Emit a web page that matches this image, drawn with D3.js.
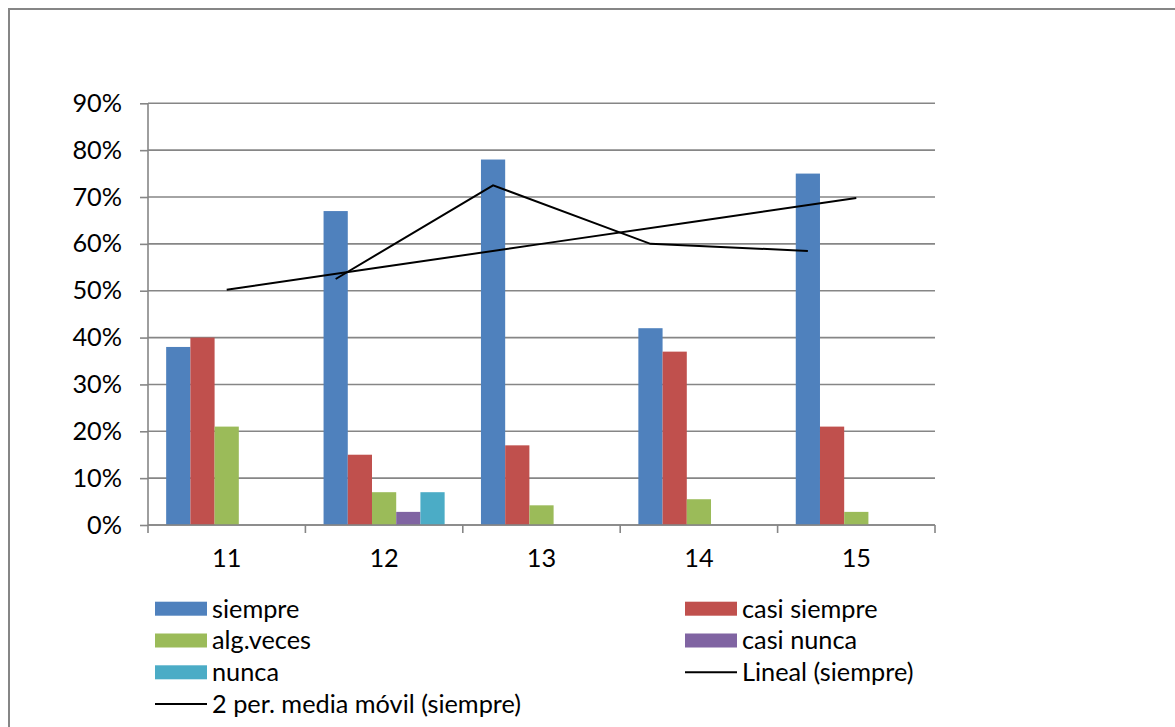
<!DOCTYPE html>
<html>
<head>
<meta charset="utf-8">
<script src="https://cdn.jsdelivr.net/npm/d3@7"></script>
<style>
  html, body { margin: 0; padding: 0; background: #fff; }
  svg { display: block; }
  text { font-family: Lato, "Open Sans", sans-serif; fill: #000; }
</style>
</head>
<body>
<svg id="chart" width="1175" height="727"></svg>
<script>
// Categories (question numbers) and answer shares per category
const categories = ["11", "12", "13", "14", "15"];
const seriesNames = ["siempre", "casi siempre", "alg.veces", "casi nunca", "nunca"];
const siempre     = [0.38, 0.67, 0.78, 0.42, 0.75];
const casiSiempre = [0.40, 0.15, 0.17, 0.37, 0.21];
const algVeces    = [0.21, 0.07, 0.042, 0.055, 0.028];
const casiNunca   = [0, 0.028, 0, 0, 0];
const nunca       = [0, 0.07, 0, 0, 0];
const yTicks = [0, 0.1, 0.2, 0.3, 0.4, 0.5, 0.6, 0.7, 0.8, 0.9];
const trendNames = ["Lineal (siempre)", "2 per. media móvil (siempre)"];

const seriesValues = [siempre, casiSiempre, algVeces, casiNunca, nunca];
const colors = ["#4F81BD", "#C0504D", "#9BBB59", "#8064A2", "#4BACC6"];
const gridColor = "#868686";
const fontSize = 25.3;

const svg = d3.select("#chart");

// outer chart frame
svg.append("rect")
  .attr("x", 9).attr("y", 9)
  .attr("width", 1200).attr("height", 760)
  .attr("fill", "#fff")
  .attr("stroke", gridColor).attr("stroke-width", 2);

const plot = { left: 148, right: 935, top: 103.3, bottom: 525 };

const x = d3.scaleBand().domain(categories).range([plot.left, plot.right]).paddingInner(0).paddingOuter(0);
const xs = d3.scaleBand().domain(seriesNames).range([0, x.bandwidth()]).paddingInner(0).paddingOuter(0.75);
const y = d3.scaleLinear().domain([0, 0.9]).range([plot.bottom, plot.top]);

// horizontal gridlines
svg.append("g")
  .selectAll("line")
  .data(yTicks)
  .join("line")
  .attr("x1", plot.left).attr("x2", plot.right)
  .attr("y1", d => y(d)).attr("y2", d => y(d))
  .attr("stroke", gridColor).attr("stroke-width", 1.6);

// bars
const barGroups = svg.append("g")
  .selectAll("g")
  .data(seriesNames)
  .join("g")
  .attr("fill", (d, i) => colors[i]);

barGroups.selectAll("rect")
  .data((s, i) => categories.map((c, j) => ({ cat: c, series: s, v: seriesValues[i][j] })).filter(d => d.v > 0))
  .join("rect")
  .attr("x", d => x(d.cat) + xs(d.series))
  .attr("width", xs.bandwidth())
  .attr("y", d => y(d.v))
  .attr("height", d => y(0) - y(d.v));

// y axis
const yAxis = svg.append("g")
  .attr("transform", `translate(${plot.left},0)`)
  .call(d3.axisLeft(y).tickValues(yTicks).tickFormat(d3.format(".0%")).tickSize(8).tickPadding(18));
yAxis.select(".domain").attr("stroke", gridColor).attr("stroke-width", 1.6).attr("d", `M0,${plot.top}V${plot.bottom}`);
yAxis.selectAll(".tick line").attr("stroke", gridColor).attr("stroke-width", 1.6);
yAxis.selectAll(".tick text").attr("font-size", fontSize).attr("font-family", "Lato, sans-serif").attr("fill", "#000");

// x axis
const xAxis = svg.append("g")
  .attr("transform", `translate(0,${plot.bottom})`)
  .call(d3.axisBottom(x).tickSize(0).tickPadding(24));
xAxis.select(".domain").attr("stroke", gridColor).attr("stroke-width", 1.6).attr("d", `M${plot.left},0H${plot.right}`);
xAxis.selectAll(".tick text").attr("font-size", fontSize).attr("font-family", "Lato, sans-serif").attr("fill", "#000");
// category boundary tick marks
const boundaries = categories.map(c => x(c)).concat([x(categories[categories.length - 1]) + x.bandwidth()]);
xAxis.append("g")
  .selectAll("line")
  .data(boundaries)
  .join("line")
  .attr("x1", d => d).attr("x2", d => d)
  .attr("y1", 0).attr("y2", 8)
  .attr("stroke", gridColor).attr("stroke-width", 1.6);

// trend lines for "siempre": linear fit through category centres,
// 2-period moving average anchored on the "siempre" bars
const catCenter = c => x(c) + x.bandwidth() / 2;
const barCenter = c => x(c) + xs(seriesNames[0]) + xs.bandwidth() / 2;
const n = siempre.length;
const meanX = (n + 1) / 2;
const meanY = d3.mean(siempre);
const slope = d3.sum(siempre, (v, i) => (i + 1 - meanX) * (v - meanY)) / d3.sum(siempre, (v, i) => (i + 1 - meanX) ** 2);
const linear = categories.map((c, i) => ({ c, v: meanY + slope * (i + 1 - meanX) }));
const movingAvg = categories.slice(1).map((c, i) => ({ c, v: (siempre[i] + siempre[i + 1]) / 2 }));

[[linear, catCenter], [movingAvg, barCenter]].forEach(([data, xf]) => {
  svg.append("path")
    .datum(data)
    .attr("d", d3.line().x(d => xf(d.c)).y(d => y(d.v)))
    .attr("fill", "none")
    .attr("stroke", "#000")
    .attr("stroke-width", 2);
});

// legend
const legendItems = [
  { name: seriesNames[0], type: "bar", color: colors[0], col: 0, row: 0 },
  { name: seriesNames[1], type: "bar", color: colors[1], col: 1, row: 0 },
  { name: seriesNames[2], type: "bar", color: colors[2], col: 0, row: 1 },
  { name: seriesNames[3], type: "bar", color: colors[3], col: 1, row: 1 },
  { name: seriesNames[4], type: "bar", color: colors[4], col: 0, row: 2 },
  { name: trendNames[0], type: "line", color: "#000", col: 1, row: 2 },
  { name: trendNames[1], type: "line", color: "#000", col: 0, row: 3 }
];
const legendCols = [155, 685];
const legendTop = 608.7;
const rowH = 31.8;
const legend = svg.append("g")
  .selectAll("g")
  .data(legendItems)
  .join("g")
  .attr("transform", d => `translate(${legendCols[d.col]},${legendTop + d.row * rowH})`);
legend.filter(d => d.type === "bar").append("rect")
  .attr("x", 0).attr("y", -7).attr("width", 52).attr("height", 14)
  .attr("fill", d => d.color);
legend.filter(d => d.type === "line").append("line")
  .attr("x1", 0).attr("x2", 52).attr("y1", 0).attr("y2", 0)
  .attr("stroke", "#000").attr("stroke-width", 2);
legend.append("text")
  .attr("x", 57).attr("y", 0).attr("dy", "0.35em")
  .attr("font-size", fontSize)
  .text(d => d.name);
</script>
</body>
</html>
